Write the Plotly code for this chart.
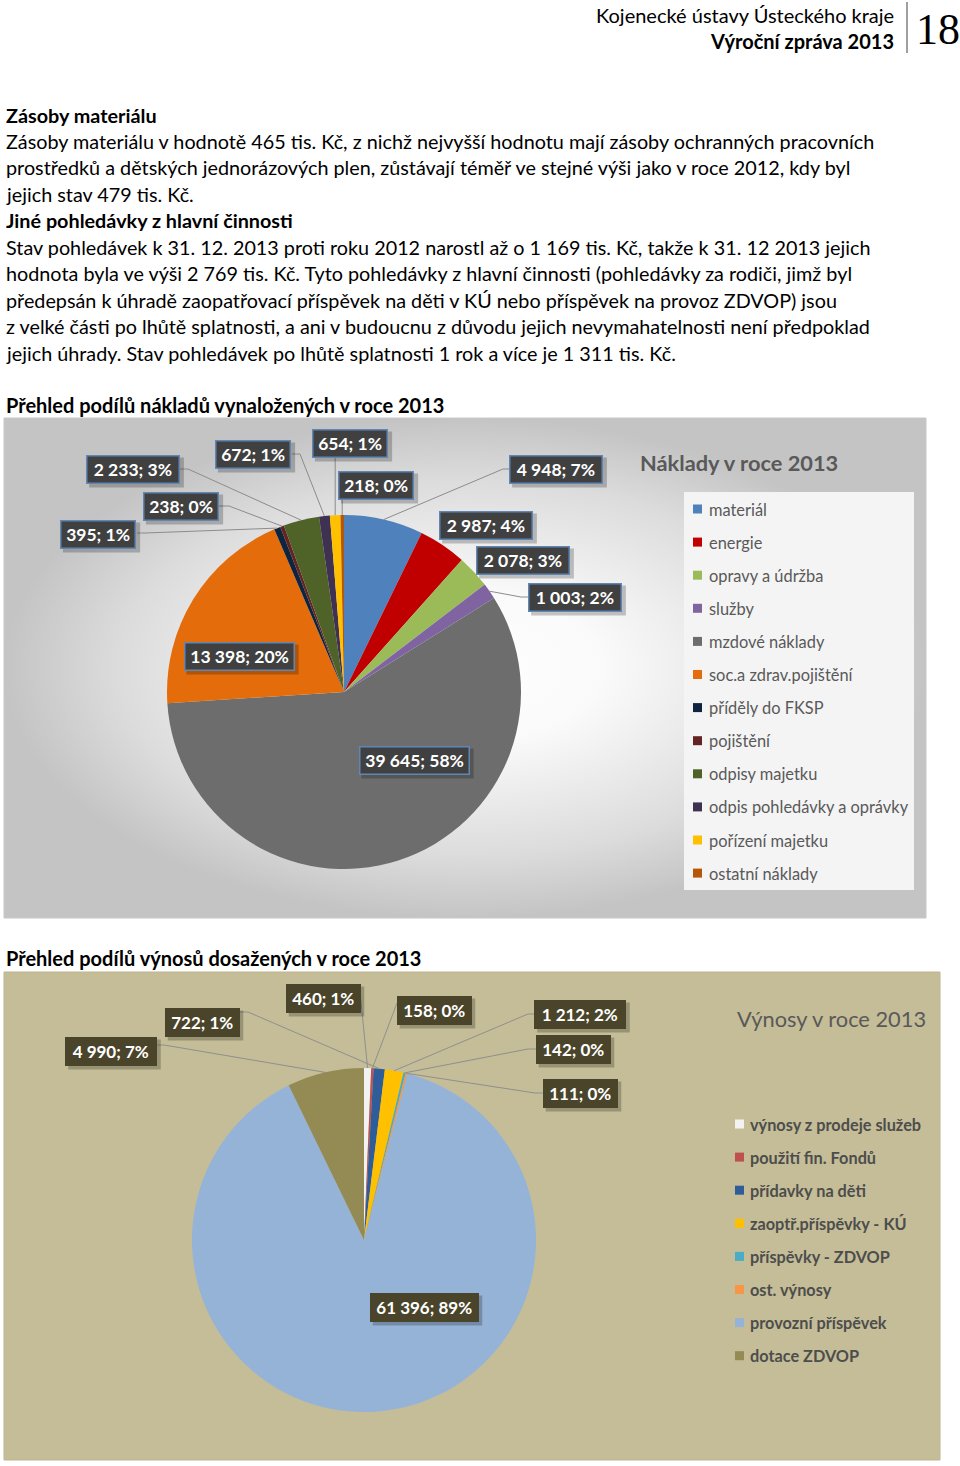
import math
import plotly.graph_objects as go

W, H = 960, 1466
FONT = "Lato"

# ---------------- data ----------------
cost_labels = ["materiál", "energie", "opravy a údržba", "služby", "mzdové náklady",
               "soc.a zdrav.pojištění", "příděly do FKSP", "pojištění", "odpisy majetku",
               "odpis pohledávky a oprávky", "pořízení majetku", "ostatní náklady"]
cost_values = [4948, 2987, 2078, 1003, 39645, 13398, 395, 238, 2233, 672, 654, 218]
cost_colors = ["#4F81BD", "#C00000", "#9BBB59", "#8064A2", "#6D6D6D", "#E46C0A",
               "#0F243E", "#632523", "#4F6228", "#3F3151", "#FFC000", "#B65708"]

rev_labels = ["výnosy z prodeje služeb", "použití fin. Fondů", "přídavky na děti",
              "zaoptř.příspěvky - KÚ", "příspěvky - ZDVOP", "ost. výnosy",
              "provozní příspěvek", "dotace ZDVOP"]
rev_values = [460, 158, 722, 1212, 142, 111, 61396, 4990]
rev_colors = ["#F2F2F2", "#C0504D", "#2F5D99", "#FFC000", "#4BACC6", "#F79646",
              "#95B3D7", "#948A54"]

header_lines = ["Kojenecké ústavy Ústeckého kraje", "Výroční zpráva 2013"]
page_number = "18"
para1_title = "Zásoby materiálu"
para1 = ["Zásoby materiálu v hodnotě 465 tis. Kč, z nichž nejvyšší hodnotu mají zásoby ochranných pracovních",
         "prostředků a dětských jednorázových plen, zůstávají téměř ve stejné výši jako v roce 2012, kdy byl",
         "jejich stav 479 tis. Kč."]
para2_title = "Jiné pohledávky z hlavní činnosti"
para2 = ["Stav pohledávek k 31. 12. 2013 proti roku 2012 narostl až o 1 169 tis. Kč, takže k 31. 12 2013 jejich",
         "hodnota byla ve výši 2 769 tis. Kč. Tyto pohledávky z hlavní činnosti (pohledávky za rodiči, jimž byl",
         "předepsán k úhradě zaopatřovací příspěvek na děti v KÚ nebo příspěvek na provoz ZDVOP) jsou",
         "z velké části po lhůtě splatnosti, a ani v budoucnu z důvodu jejich nevymahatelnosti není předpoklad",
         "jejich úhrady. Stav pohledávek po lhůtě splatnosti 1 rok a více je 1 311 tis. Kč."]
heading_cost = "Přehled podílů nákladů vynaložených v roce 2013"
heading_rev = "Přehled podílů výnosů dosažených v roce 2013"
title_cost = "Náklady v roce 2013"
title_rev = "Výnosy v roce 2013"

# ---------------- layout constants (pixels) ----------------
COST_PIE = dict(cx=344, cy=692, r=177)
REV_PIE = dict(cx=364, cy=1240, r=172)

# label box centre, leader: (bx, by, attach_x, attach_y, elbow_dx); attach None => no leader
cost_label_layout = [
    (556, 469, 511, 469, -8),
    (486, 525, None, None, 0),
    (523, 560, None, None, 0),
    (575, 597, 529, 597, -8),
    (414, 760, None, None, 0),
    (239, 656, None, None, 0),
    (98, 534, 137, 533, 8),
    (181, 506, 219, 506, 10),
    (133, 469, 178, 469, 10),
    (253, 454, 292, 454, 8),
    (350, 443, 'V', 458, 0),
    (376, 485, 'V', 499, 0),
]
rev_label_layout = [
    (323, 998, 360, 992, 0),
    (434, 1010, 397, 1003, 0),
    (202, 1022, 240, 1012, 8),
    (580, 1014, 536, 1014, -8),
    (573, 1049, 536, 1049, -8),
    (580, 1093, 543, 1093, -8),
    (424, 1307, None, None, 0),
    (111, 1051, 156, 1045, 8),
]


def fmt(v):
    return f"{v:,}".replace(",", " ")


def pct_largest_remainder(vals):
    tot = sum(vals)
    raw = [v * 100.0 / tot for v in vals]
    fl = [int(math.floor(x)) for x in raw]
    rem = 100 - sum(fl)
    order = sorted(range(len(vals)), key=lambda i: raw[i] - fl[i], reverse=True)
    for i in order[:rem]:
        fl[i] += 1
    return fl


def slice_tips(vals, pie):
    tot = sum(vals)
    tips = []
    cum = 0
    for v in vals:
        mid = (cum + v / 2.0) / tot * 2 * math.pi
        cum += v
        tips.append((pie["cx"] + pie["r"] * math.sin(mid), pie["cy"] - pie["r"] * math.cos(mid)))
    return tips


def domain(pie):
    return dict(x=[(pie["cx"] - pie["r"]) / W, (pie["cx"] + pie["r"]) / W],
                y=[1 - (pie["cy"] + pie["r"]) / H, 1 - (pie["cy"] - pie["r"]) / H])


fig = go.Figure()

# Background of cost chart with radial gradient
bx0, by0, bx1, by1 = 4, 418, 926, 918
fig.add_trace(go.Scatter(
    x=[bx0, bx1, bx1, bx0, bx0], y=[by0, by0, by1, by1, by0],
    mode="lines", fill="toself", line=dict(color="#C8C8C8", width=1),
    fillgradient=dict(type="radial",
                      colorscale=[[0, "#FFFFFF"], [0.3, "#FAFAFA"], [0.75, "#DCDCDC"], [1, "#C4C4C4"]]),
    hoverinfo="skip", showlegend=False))

fig.add_trace(go.Pie(labels=cost_labels, values=cost_values, sort=False, direction="clockwise",
                     rotation=0, textinfo="none", marker=dict(colors=cost_colors, line=dict(width=0)),
                     domain=domain(COST_PIE), showlegend=False, name="Náklady"))
fig.add_trace(go.Pie(labels=rev_labels, values=rev_values, sort=False, direction="clockwise",
                     rotation=0, textinfo="none", marker=dict(colors=rev_colors, line=dict(width=0)),
                     domain=domain(REV_PIE), showlegend=False, name="Výnosy"))

shapes = []
annotations = []


def text(x, y, s, size=19.8, bold=False, color="#000000", anchor="left", family=FONT):
    annotations.append(dict(x=x, y=y, xref="x", yref="y", text=(f"<b>{s}</b>" if bold else s),
                            showarrow=False, xanchor=anchor, yanchor="middle",
                            font=dict(family=family, size=size, color=color)))


# revenue chart background (below traces)
shapes.append(dict(type="rect", xref="x", yref="y", x0=4, y0=972, x1=940, y1=1460,
                   fillcolor="#C4BD97", line=dict(color="#BDB58C", width=1), layer="below"))

# header
text(896, 15, header_lines[0], size=20, anchor="right")
text(896, 41, header_lines[1], size=20, bold=True, anchor="right")
text(938, 29, page_number, size=44, anchor="center", family="Liberation Sans Narrow")
shapes.append(dict(type="line", xref="x", yref="y", x0=907, y0=2, x1=907, y1=53,
                   line=dict(color="#404040", width=1)))

# paragraphs
text(4, 115, para1_title, bold=True)
for i, s in enumerate(para1):
    text(4, 141 + 26.4 * i, s)
text(4, 220, para2_title, bold=True)
for i, s in enumerate(para2):
    text(4, 247 + 26.4 * i, s)
text(4, 405, heading_cost, size=20, bold=True)
text(4, 958, heading_rev, size=20, bold=True)

# chart titles
text(638, 462, title_cost, size=21.8, bold=True, color="#595959")
text(735, 1018, title_rev, size=21.8, color="#595959")

# cost legend
shapes.append(dict(type="rect", xref="x", yref="y", x0=684, y0=492, x1=914, y1=890,
                   fillcolor="#F4F4F4", line=dict(width=0), layer="above"))
for i, (lab, col) in enumerate(zip(cost_labels, cost_colors)):
    y = 509 + 33.1 * i
    shapes.append(dict(type="rect", xref="x", yref="y", x0=693, y0=y - 4.5, x1=702, y1=y + 4.5,
                       fillcolor=col, line=dict(width=0), layer="above"))
    text(707, y, lab, size=16.4, color="#595959")

# revenue legend
for i, (lab, col) in enumerate(zip(rev_labels, rev_colors)):
    y = 1124 + 33.1 * i
    shapes.append(dict(type="rect", xref="x", yref="y", x0=735, y0=y - 4.5, x1=744, y1=y + 4.5,
                       fillcolor=col, line=dict(width=0), layer="above"))
    text(748, y, lab, size=16.3, bold=True, color="#4D4D4D")


def add_labels(vals, pie, layout_list, box_bg, box_border, size, leader_col, per_char):
    pcts = pct_largest_remainder(vals)
    tips = slice_tips(vals, pie)
    for v, p, (tx, ty), (bx, by, ax, ay, edx) in zip(vals, pcts, tips, layout_list):
        if ax is not None:
            if ax == "V":
                path = f"M {tx:.1f},{ay} L {tx:.1f},{ty:.1f}"
            else:
                path = f"M {ax},{ay} L {ax + edx},{ay} L {tx:.1f},{ty:.1f}"
            shapes.append(dict(type="path", xref="x", yref="y", path=path,
                               line=dict(color=leader_col, width=1), layer="above"))
        s = f"{fmt(v)}; {p}%"
        inner_w = per_char * len(s) + 6
        inner_h = 20
        tot_w = inner_w + 9
        tot_h = inner_h + 9
        # shadow
        shapes.append(dict(type="rect", xref="x", yref="y",
                           x0=bx - tot_w / 2 + 3, x1=bx + tot_w / 2 + 4,
                           y0=by - tot_h / 2 + 3, y1=by + tot_h / 2 + 4,
                           fillcolor="rgba(0,0,0,0.22)", line=dict(width=0), layer="above"))
        annotations.append(dict(x=bx, y=by, xref="x", yref="y", text=f"<b>{s}</b>", showarrow=False,
                                xanchor="center", yanchor="middle", bgcolor=box_bg,
                                width=inner_w, height=inner_h,
                                bordercolor=box_border, borderwidth=1.5, borderpad=3,
                                font=dict(family=FONT, size=size, color="#FFFFFF")))


add_labels(cost_values, COST_PIE, cost_label_layout, "#404040", "#5F86B5", 17.5, "#8C8C8C", 8.75)
add_labels(rev_values, REV_PIE, rev_label_layout, "#4A452A", "#4A452A", 17, "#8F8F8F", 8.5)

fig.update_layout(
    width=W, height=H, margin=dict(l=0, r=0, t=0, b=0),
    paper_bgcolor="#FFFFFF", plot_bgcolor="rgba(0,0,0,0)",
    xaxis=dict(range=[0, W], domain=[0, 1], visible=False, fixedrange=True),
    yaxis=dict(range=[H, 0], domain=[0, 1], visible=False, fixedrange=True),
    shapes=shapes, annotations=annotations, showlegend=False,
    font=dict(family=FONT),
)

fig.write_html("out.html", config={"displayModeBar": False},
               post_script="document.body.style.margin='0';document.body.style.padding='0';")
